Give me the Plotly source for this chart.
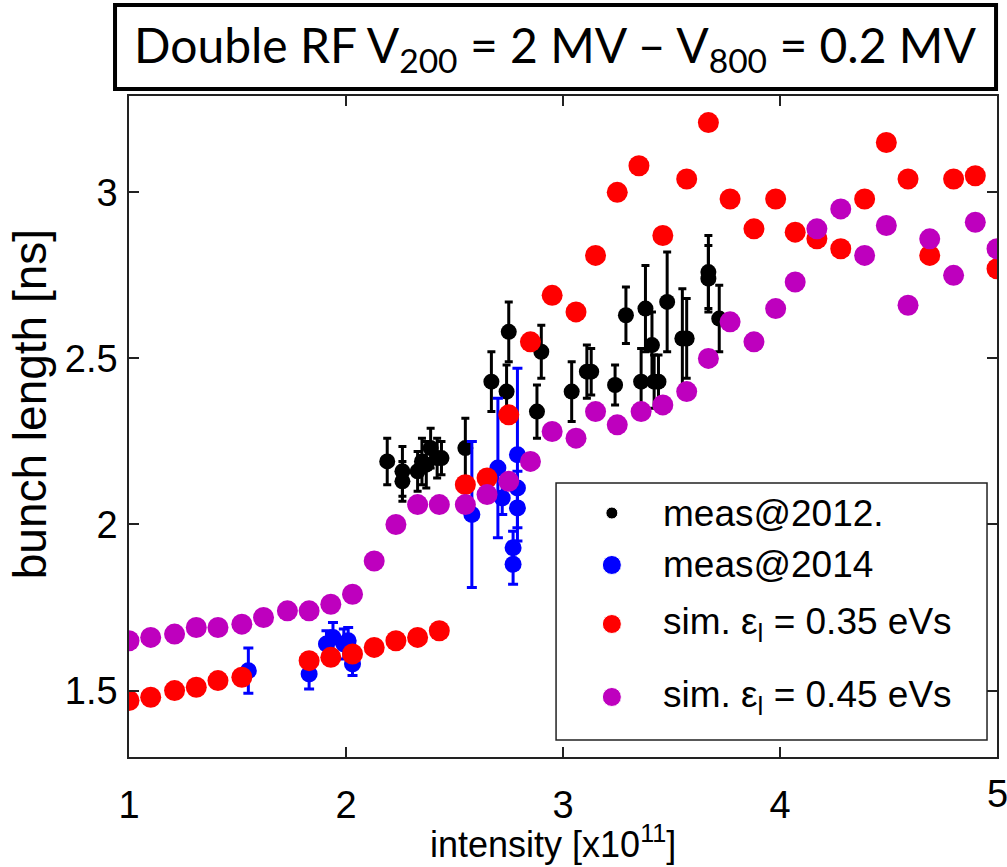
import plotly.graph_objects as go

# ---------------- data ----------------
meas2012_x = [2.19, 2.26, 2.26, 2.33, 2.35, 2.37, 2.39, 2.42, 2.44, 2.55, 2.67, 2.74, 2.75, 2.88, 2.90,
              3.04, 3.11, 3.13, 3.24, 3.29, 3.36, 3.38, 3.41, 3.42, 3.44, 3.48, 3.55, 3.57, 3.67, 3.67, 3.72]
meas2012_y = [2.19, 2.16, 2.13, 2.16, 2.19, 2.18, 2.23, 2.20, 2.20, 2.23, 2.43, 2.40, 2.58, 2.34, 2.52,
              2.40, 2.46, 2.46, 2.42, 2.63, 2.43, 2.65, 2.54, 2.43, 2.43, 2.67, 2.56, 2.56, 2.76, 2.74, 2.62]
meas2012_err = [0.07, 0.075, 0.06, 0.06, 0.07, 0.07, 0.06, 0.06, 0.05, 0.09, 0.09, 0.08, 0.09, 0.08, 0.08,
                0.09, 0.08, 0.07, 0.06, 0.085, 0.10, 0.13, 0.10, 0.08, 0.08, 0.15, 0.15, 0.12, 0.11, 0.10, 0.10]

meas2014_x = [1.55, 1.83, 1.91, 1.94, 1.99, 2.01, 2.03, 2.58, 2.70, 2.72, 2.79, 2.79, 2.79, 2.77, 2.77]
meas2014_y = [1.56, 1.55, 1.64, 1.66, 1.64, 1.65, 1.58, 2.03, 2.17, 2.08, 2.21, 2.11, 2.05, 1.93, 1.88]
meas2014_err = [0.068, 0.045, 0.04, 0.045, 0.045, 0.04, 0.035, 0.22, 0.21, 0.05, 0.26, 0.05, 0.06, 0.05, 0.06]

sim035_x = [1.00, 1.10, 1.21, 1.31, 1.41, 1.52,
            1.83, 1.93, 2.03, 2.13, 2.23, 2.33, 2.43,
            2.55, 2.65, 2.75, 2.85, 2.95, 3.06, 3.15, 3.25, 3.35, 3.46, 3.57, 3.67, 3.77,
            3.88, 3.98, 4.07, 4.17, 4.28, 4.39, 4.49, 4.59, 4.69, 4.80, 4.90, 5.00]
sim035_y = [1.47, 1.48, 1.50, 1.51, 1.53, 1.54,
            1.59, 1.60, 1.61, 1.63, 1.65, 1.66, 1.68,
            2.12, 2.14, 2.33, 2.55, 2.69, 2.64, 2.81, 3.00, 3.08, 2.87, 3.04, 3.21, 2.98,
            2.89, 2.98, 2.88, 2.86, 2.83, 2.98, 3.15, 3.04, 2.81, 3.04, 3.05, 2.77]

sim045_x = [1.00, 1.10, 1.21, 1.31, 1.41, 1.52, 1.62, 1.73, 1.83, 1.93, 2.03, 2.13, 2.23, 2.33, 2.43,
            2.55, 2.65, 2.75, 2.85, 2.95, 3.06, 3.15, 3.25, 3.36, 3.46, 3.57, 3.67, 3.77, 3.88, 3.98,
            4.07, 4.17, 4.28, 4.39, 4.49, 4.59, 4.69, 4.80, 4.90, 5.00]
sim045_y = [1.65, 1.66, 1.67, 1.69, 1.69, 1.70, 1.72, 1.74, 1.74, 1.76, 1.79, 1.89, 2.00, 2.06, 2.06,
            2.06, 2.09, 2.13, 2.19, 2.28, 2.26, 2.34, 2.30, 2.34, 2.36, 2.40, 2.50, 2.61, 2.55, 2.65,
            2.73, 2.89, 2.95, 2.81, 2.90, 2.66, 2.86, 2.75, 2.91, 2.83]

x_ticks = [1, 2, 3, 4, 5]
y_ticks = [1.5, 2, 2.5, 3]
y_tick_labels = ["1.5", "2", "2.5", "3"]

series_names = ["meas@2012.", "meas@2014",
                "sim. \u03b5<sub>l</sub> = 0.35 eVs", "sim. \u03b5<sub>l</sub> = 0.45 eVs"]
series_colors = ["#000000", "#0000FF", "#FF0000", "#BE00BE"]

title_text = "Double RF V<sub>200</sub> = 2 MV \u2013 V<sub>800</sub> = 0.2 MV"
x_title = "intensity [x10<sup>11</sup>]"
y_title = "bunch length [ns]"

# ---------------- figure ----------------
FONT = "Liberation Sans, Arial, sans-serif"
TICK_SIZE = 38
fig = go.Figure()

fig.add_trace(go.Scatter(
    x=meas2012_x, y=meas2012_y, mode="markers", name=series_names[0],
    marker=dict(color=series_colors[0], size=16, opacity=1),
    error_y=dict(type="data", array=meas2012_err, color=series_colors[0], thickness=3, width=4),
    showlegend=False))
fig.add_trace(go.Scatter(
    x=meas2014_x, y=meas2014_y, mode="markers", name=series_names[1],
    marker=dict(color=series_colors[1], size=17, opacity=1),
    error_y=dict(type="data", array=meas2014_err, color=series_colors[1], thickness=3, width=5),
    showlegend=False))
fig.add_trace(go.Scatter(
    x=sim035_x, y=sim035_y, mode="markers", name=series_names[2],
    marker=dict(color=series_colors[2], size=21, opacity=1), showlegend=False))
fig.add_trace(go.Scatter(
    x=sim045_x, y=sim045_y, mode="markers", name=series_names[3],
    marker=dict(color=series_colors[3], size=21, opacity=1), showlegend=False))

# legend (manual, matlab style)
leg_marker_x = [0.5563] * 4
leg_marker_y = [0.3691, 0.2905, 0.2012, 0.0908]
leg_sizes = [12, 19, 19, 19]
fig.add_trace(go.Scatter(
    x=leg_marker_x, y=leg_marker_y, xaxis="x2", yaxis="y2", mode="markers",
    marker=dict(color=series_colors, size=leg_sizes, opacity=1), opacity=1,
    showlegend=False, hoverinfo="skip"))

fig.add_shape(type="rect", xref="paper", yref="paper", x0=0.492, x1=0.9885, y0=0.0257, y1=0.4145,
              line=dict(color="#222222", width=1.5), fillcolor="rgba(0,0,0,0)", layer="below")
for name, yy in zip(series_names, leg_marker_y):
    fig.add_annotation(xref="paper", yref="paper", x=0.6126, y=yy, text=name, showarrow=False,
                       xanchor="left", yanchor="middle",
                       font=dict(family=FONT, size=37, color="black"))

# title box
fig.add_shape(type="rect", xref="paper", yref="paper", x0=-0.0161, x1=0.9989, y0=1.0106, y1=1.1376,
              line=dict(color="black", width=4), fillcolor="white")
fig.add_annotation(xref="paper", yref="paper", x=0.4908, y=1.0726, text=title_text, showarrow=False,
                   xanchor="center", yanchor="middle",
                   font=dict(family="Lato, Open Sans, sans-serif", size=48, color="black"))

# last x tick label sits on the page edge (drawn as annotation so it is not dropped)
fig.add_annotation(x=x_ticks[-1], xref="x", yref="paper", y=-0.0555, text=str(x_ticks[-1]),
                   showarrow=False, xanchor="center", yanchor="middle",
                   font=dict(family=FONT, size=TICK_SIZE, color="black"))

# axis titles
fig.add_annotation(xref="paper", yref="paper", x=0.4885, y=-0.1286, text=x_title, showarrow=False,
                   xanchor="center", yanchor="middle",
                   font=dict(family=FONT, size=36, color="black"))
fig.add_annotation(xref="paper", yref="paper", x=-0.1138, y=0.534, text=y_title, showarrow=False,
                   textangle=-90, xanchor="center", yanchor="middle",
                   font=dict(family=FONT, size=46, color="black"))

axis_common = dict(showline=True, linecolor="#222222", linewidth=1.5, mirror="ticks",
                   ticks="inside", ticklen=10, tickwidth=1.5, tickcolor="#222222",
                   showgrid=False, zeroline=False,
                   tickfont=dict(family=FONT, size=TICK_SIZE, color="black"))

fig.update_layout(
    width=1007, height=867,
    margin=dict(l=129, r=8, t=96, b=110),
    paper_bgcolor="white", plot_bgcolor="white",
    xaxis=dict(range=[1, 5], tickvals=x_ticks[:-1], ticktext=[str(v) for v in x_ticks[:-1]],
               ticklabelstandoff=14, **axis_common),
    yaxis=dict(range=[1.3, 3.29], tickvals=y_ticks, ticktext=y_tick_labels,
               ticklabelstandoff=2, **axis_common),
    xaxis2=dict(range=[0, 1], overlaying="x", visible=False, fixedrange=True),
    yaxis2=dict(range=[0, 1], overlaying="y", visible=False, fixedrange=True),
    showlegend=False,
)

fig.write_html("out.html")
